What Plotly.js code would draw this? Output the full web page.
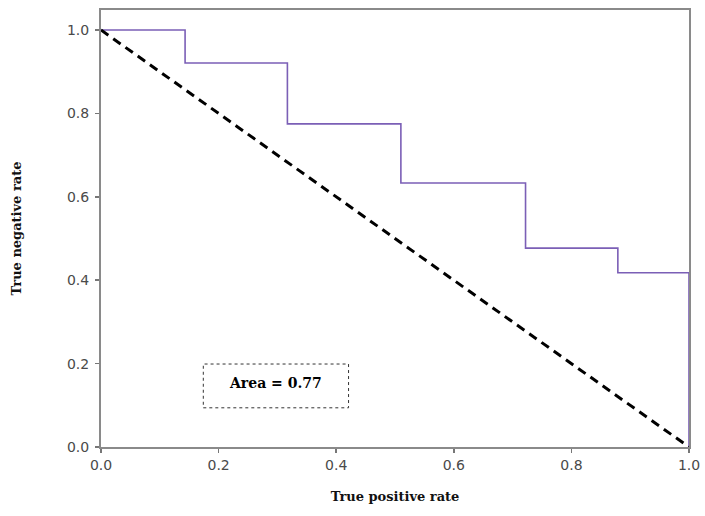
<!DOCTYPE html>
<html>
<head>
<meta charset="utf-8">
<script src="https://cdn.plot.ly/plotly-3.0.1.min.js"></script>
<style>html,body{margin:0;padding:0;background:#fff;}#chart{width:705px;height:516px;}</style>
</head>
<body>
<div id="chart"></div>
<script>
// ROC step points (true positive rate vs true negative rate)
const rocX = [0, 0.143, 0.317, 0.510, 0.722, 0.879, 1.0, 1.0];
const rocY = [1, 0.921, 0.775, 0.633, 0.477, 0.418, 0.418, 0];
// chance diagonal
const diagX = [0, 1];
const diagY = [1, 0];
const tickVals = [0, 0.2, 0.4, 0.6, 0.8, 1.0];
const tickText = ["0.0", "0.2", "0.4", "0.6", "0.8", "1.0"];
const areaLabel = "Area = 0.77";

const traces = [
  {x: rocX, y: rocY, mode: 'lines', line: {shape: 'hv', color: '#7b5fb6', width: 1.6}, hoverinfo: 'skip'},
  {x: diagX, y: diagY, mode: 'lines', line: {color: '#000', width: 3, dash: '9px,6px'}, hoverinfo: 'skip'}
];

const axisCommon = {
  showgrid: false, zeroline: false, showline: true, linecolor: '#8a8a8a', linewidth: 2,
  mirror: true, ticks: 'outside', ticklen: 4, tickwidth: 1.5, tickcolor: '#777',
  tickvals: tickVals, ticktext: tickText,
  tickfont: {family: 'DejaVu Sans', size: 14, color: '#4a4a4a'}
};

const layout = {
  width: 705, height: 516,
  margin: {l: 101, r: 16, t: 10, b: 69},
  paper_bgcolor: '#fff', plot_bgcolor: '#fff',
  showlegend: false,
  xaxis: Object.assign({}, axisCommon, {
    range: [0, 1],
    title: {text: 'True positive rate', standoff: 20, font: {family: 'DejaVu Serif', size: 13, color: '#111', weight: 'bold'}}
  }),
  yaxis: Object.assign({}, axisCommon, {
    range: [0, 1.048],
    ticklabelstandoff: 3,
    title: {text: 'True negative rate', standoff: 42, font: {family: 'DejaVu Serif', size: 13, color: '#111', weight: 'bold'}}
  }),
  shapes: [
    {type: 'rect', xref: 'x', yref: 'y', x0: 0.174, x1: 0.421, y0: 0.094, y1: 0.199,
     line: {color: '#333', width: 1, dash: 'dot'}, fillcolor: 'rgba(0,0,0,0)'}
  ],
  annotations: [
    {xref: 'x', yref: 'y', x: 0.2975, y: 0.153, text: '<b>' + areaLabel + '</b>', showarrow: false,
     font: {family: 'DejaVu Serif', size: 14, color: '#000'}}
  ]
};

Plotly.newPlot('chart', traces, layout, {staticPlot: true, displayModeBar: false});
</script>
</body>
</html>
